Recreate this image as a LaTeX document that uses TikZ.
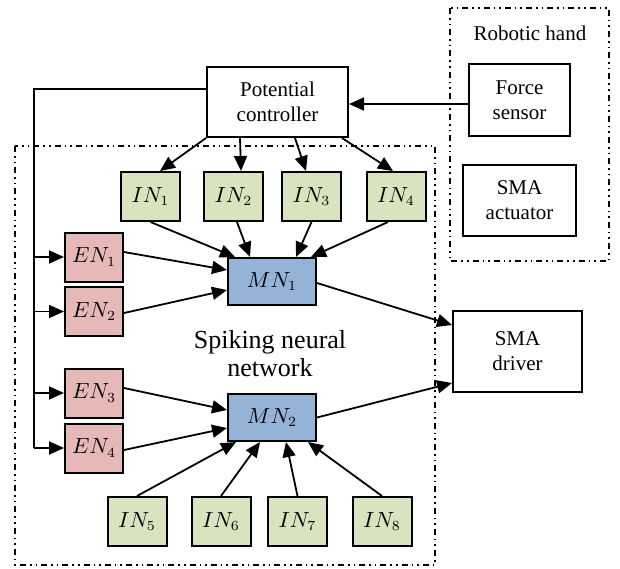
\documentclass[tikz,border=0pt]{standalone}
\usepackage{fontspec}
\setmainfont{Liberation Serif}
\usepackage{xcolor}
\usetikzlibrary{arrows.meta}
\definecolor{ingreen}{HTML}{D7E4BD}
\definecolor{enred}{HTML}{E6B9B8}
\definecolor{mnblue}{HTML}{95B3D7}

\begin{document}
\begin{tikzpicture}[x=0.5pt,y=-0.5pt,
    box/.style={draw, line width=1pt, align=center, inner sep=0pt, font=\fontsize{10.5}{12.5}\selectfont},
    inbox/.style={box, fill=ingreen, minimum width=29.5pt, minimum height=24.5pt},
    enbox/.style={box, fill=enred, minimum width=29pt, minimum height=24.5pt},
    mnbox/.style={box, fill=mnblue, minimum width=44pt, minimum height=23.5pt},
    group/.style={draw, line width=0.8pt, dash dot dot},
    arr/.style={-{Triangle[length=7.5pt,width=6.5pt]}, line width=0.9pt}]
        \useasboundingbox (0,0) rectangle (620,568);

        % Group frames
        \draw[group] (450,8) rectangle (609,261);
        \draw[group] (15,146) rectangle (435,565);
        \node[font=\fontsize{10.5}{12.5}\selectfont] (handlabel) at (530,33) {Robotic hand};
        \node[font=\fontsize{13}{14}\selectfont, align=center] (snnlabel) at (270,354) {Spiking neural\\network};

        % Outer blocks
        \node[box, minimum width=70.5pt, minimum height=35pt] (ctrl) at (277.5,102) {Potential\\controller};
        \node[box, minimum width=50.5pt, minimum height=36pt] (force) at (519.5,100) {Force\\sensor};
        \node[box, minimum width=56.5pt, minimum height=35.5pt] (act) at (519.5,200.5) {SMA\\actuator};
        \node[box, minimum width=64.5pt, minimum height=40.5pt] (driver) at (517.5,351.5) {SMA\\driver};

        % Inhibitory neurons, upper row
        \node[inbox] (in1) at (150.5,196.5) {$IN_1$};
        \node[inbox] (in2) at (233.5,196.5) {$IN_2$};
        \node[inbox] (in3) at (311.5,196.5) {$IN_3$};
        \node[inbox] (in4) at (396,196.5) {$IN_4$};

        % Excitatory neurons
        \node[enbox] (en1) at (94,257) {$EN_1$};
        \node[enbox] (en2) at (94,311.5) {$EN_2$};
        \node[enbox] (en3) at (94,393) {$EN_3$};
        \node[enbox] (en4) at (94,448) {$EN_4$};

        % Motor neurons
        \node[mnbox] (mn1) at (272,281.5) {$MN_1$};
        \node[mnbox] (mn2) at (272,417.5) {$MN_2$};

        % Inhibitory neurons, lower row
        \node[inbox] (in5) at (137,521.5) {$IN_5$};
        \node[inbox] (in6) at (221,521.5) {$IN_6$};
        \node[inbox] (in7) at (297.5,521.5) {$IN_7$};
        \node[inbox] (in8) at (382,521.5) {$IN_8$};

        % Sensor feedback
        \draw[arr] ([yshift=-2pt]force.west) -- ([yshift=-2pt]force.west -| ctrl.east);

        % Controller bus to the excitatory neurons
        \coordinate (bus) at (34,89);
        \draw[line width=0.9pt] ([yshift=6.5pt]ctrl.west) -- (bus) -- (bus |- en4);
        \draw[arr] (bus |- en1) -- (en1.west);
        \draw[arr] (bus |- en2) -- (en2.west);
        \draw[arr] (bus |- en3) -- (en3.west);
        \draw[arr] (bus |- en4) -- (en4.west);

        % Controller to the upper inhibitory neurons
        \draw[arr] (ctrl.south west) -- ([xshift=4.75pt]in1.north);
        \draw[arr] ([xshift=17pt]ctrl.south west) -- ([xshift=3.75pt]in2.north);
        \draw[arr] ([xshift=44.5pt]ctrl.south west) -- ([xshift=-2.75pt]in3.north);
        \draw[arr] ([xshift=68pt]ctrl.south west) -- ([xshift=-1.5pt]in4.north);

        % Into MN1
        \draw[arr] (in1.south) -- ([xshift=-18.5pt]mn1.north);
        \draw[arr] ([xshift=1.75pt]in2.south) -- ([xshift=-11pt]mn1.north);
        \draw[arr] (in3.south) -- ([xshift=12pt]mn1.north);
        \draw[arr] ([xshift=-4pt]in4.south) -- ([xshift=19.5pt]mn1.north);
        \draw[arr] ([yshift=2.5pt]en1.east) -- ([yshift=5.75pt]mn1.west);
        \draw[arr] ([yshift=-0.75pt]en2.east) -- ([yshift=-4.25pt]mn1.west);

        % Into MN2
        \draw[arr] ([yshift=2.5pt]en3.east) -- ([yshift=3.75pt]mn2.west);
        \draw[arr] ([yshift=-1pt]en4.east) -- ([yshift=-5.25pt]mn2.west);
        \draw[arr] (in5.north) -- ([xshift=-18pt]mn2.south);
        \draw[arr] (in6.north) -- ([xshift=-6pt]mn2.south);
        \draw[arr] (in7.north) -- ([xshift=7pt]mn2.south);
        \draw[arr] (in8.north) -- ([xshift=18pt]mn2.south);

        % Motor output
        \draw[arr] ([yshift=-0.75pt]mn1.east) -- ([yshift=13.25pt]driver.west);
        \draw[arr] (mn2.east) -- ([yshift=-15.75pt]driver.west);
    \end{tikzpicture}
\end{document}
